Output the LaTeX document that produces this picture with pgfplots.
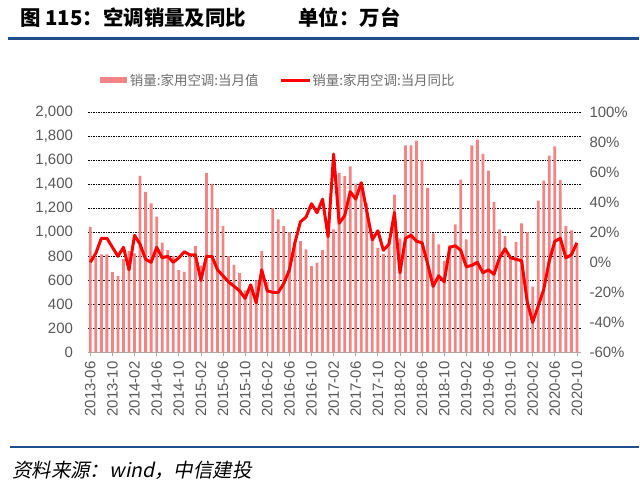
\documentclass[border=0pt]{standalone}
\usepackage{fontspec}
\setmainfont{Liberation Sans}
\newfontfamily\cjk{Noto Sans CJK SC}
\newfontfamily\cjkit[FakeSlant=0.2]{Noto Sans CJK SC}
\usepackage{pgfplots}
\usepackage{pgfplotstable}
\pgfplotsset{compat=1.18}
\definecolor{barc}{RGB}{242,132,132}
\definecolor{linec}{RGB}{255,0,0}
\definecolor{tickc}{RGB}{89,89,89}
\definecolor{legc}{RGB}{110,110,110}
\definecolor{rulec}{RGB}{31,78,140}
\definecolor{axc}{RGB}{170,170,170}

\pgfplotstableread{
i v p
0 1045 0
1 790 6
2 815 16
3 815 16
4 668 10
5 635 4
6 778 10
7 844 -5
8 825 18
9 1468 12
10 1336 2
11 1240 0
12 1130 10
13 914 3
14 852 4
15 803 0
16 686 3
17 670 7
18 820 5
19 885 5
20 722 -12
21 1494 4
22 1402 4
23 1198 -5
24 1051 -9
25 802 -13
26 728 -16
27 660 -19
28 517 -24
29 563 -15
30 600 -27
31 844 -5
32 590 -19
33 1198 -20
34 1107 -20
35 1051 -14
36 1000 -5
37 906 13
38 927 27
39 858 30
40 719 39
41 747 33
42 852 42
43 985 17
44 1024 72
45 1494 26
46 1466 31
47 1549 47
48 1405 42
49 1390 53
50 1240 34
51 985 15
52 871 21
53 820 8
54 940 12
55 1314 33
56 946 -7
57 1723 16
58 1723 18
59 1762 14
60 1600 13
61 1369 -1
62 990 -16
63 899 -9
64 761 -13
65 890 10
66 1065 11
67 1438 8
68 940 -3
69 1723 -2
70 1770 0
71 1651 -7
72 1513 -5
73 1250 -8
74 1024 3
75 968 9
76 792 3
77 921 2
78 1073 1
79 1001 -26
80 548 -40
81 1264 -29
82 1430 -18
83 1638 1
84 1715 14
85 1433 16
86 1051 3
87 1015 5
88 895 13
}\data

\begin{document}
\begin{tikzpicture}[x=1pt,y=1pt]
\path[fill=white] (0,0) rectangle (640,485);
% title
\node[anchor=west, inner sep=0pt] at (20,467.5) {\fontsize{20.5}{24}\selectfont\cjk\bfseries 图 115：空调销量及同比};
\node[anchor=west, inner sep=0pt] at (299,467.5) {\fontsize{20.5}{24}\selectfont\cjk\bfseries 单位：万台};
\draw[rulec, line width=3pt] (8,446.7) -- (640,446.7);
% legend
\fill[barc] (100,402) rectangle (127.3,407.5);
\node[anchor=west, inner sep=0pt, text=legc] at (130,404.5) {\fontsize{13.5}{16}\selectfont\cjk 销量:家用空调:当月值};
\draw[linec, line width=3pt] (282,404.5) -- (311,404.5);
\node[anchor=west, inner sep=0pt, text=legc] at (313,404.5) {\fontsize{13.5}{16}\selectfont\cjk 销量:家用空调:当月同比};
% footer
\draw[rulec, line width=2pt] (10,37) -- (640,37);
\node[anchor=west, inner sep=0pt] at (12,13.3) {\fontsize{19.5}{22}\selectfont\cjkit 资料来源：{\itshape wind}，中信建投};

\begin{axis}[at={(88.3pt,131.7pt)}, anchor=south west, scale only axis,
  width=494.4pt, height=241pt,
  xmin=-0.4, xmax=88.8, ymin=0, ymax=2000,
  axis x line*=bottom, axis y line*=left,
  y axis line style={draw=none},
  x axis line style={draw=axc, line width=0.8pt, -},
  ytick={0,200,...,2000},
  ymajorgrids,
  grid style={black, line width=0.5pt, dash pattern=on 1.5pt off 1pt},
  ytick style={draw=none},
  xtick={0,4,...,88},
  xticklabels={2013-06,2013-10,2014-02,2014-06,2014-10,2015-02,2015-06,2015-10,2016-02,2016-06,2016-10,2017-02,2017-06,2017-10,2018-02,2018-06,2018-10,2019-02,2019-06,2019-10,2020-02,2020-06,2020-10},
  xtick style={draw=axc, line width=0.8pt},
  tick align=outside, major tick length=4pt,
  xticklabel style={yshift=-5pt, rotate=90, anchor=east, inner sep=0pt, text=tickc, font=\fontsize{15}{18}\selectfont},
  yticklabel style={anchor=east, inner sep=0pt, xshift=-11pt, text=tickc, font=\fontsize{15}{18}\selectfont},
  /pgf/number format/assume math mode=true,
  /pgf/number format/1000 sep={,},
  scaled y ticks=false,
  clip=false,
]
\addplot[ybar, bar width=2.8pt, fill=barc, draw=none] table[x=i,y=v]{\data};
\end{axis}

\begin{axis}[at={(88.3pt,131.7pt)}, anchor=south west, scale only axis,
  width=494.4pt, height=241pt,
  xmin=-0.4, xmax=88.8, ymin=-60, ymax=100,
  hide x axis,
  axis y line*=right,
  y axis line style={draw=none},
  ytick={-60,-40,...,100},
  ytick style={draw=none},
  yticklabel={\pgfmathprintnumber{\tick}\%},
  yticklabel style={anchor=west, inner sep=0pt, xshift=8pt, text=tickc, font=\fontsize{15}{18}\selectfont},
  /pgf/number format/assume math mode=true,
]
\addplot[linec, line width=3pt, line join=round] table[x=i,y=p]{\data};
\end{axis}
\end{tikzpicture}
\end{document}
